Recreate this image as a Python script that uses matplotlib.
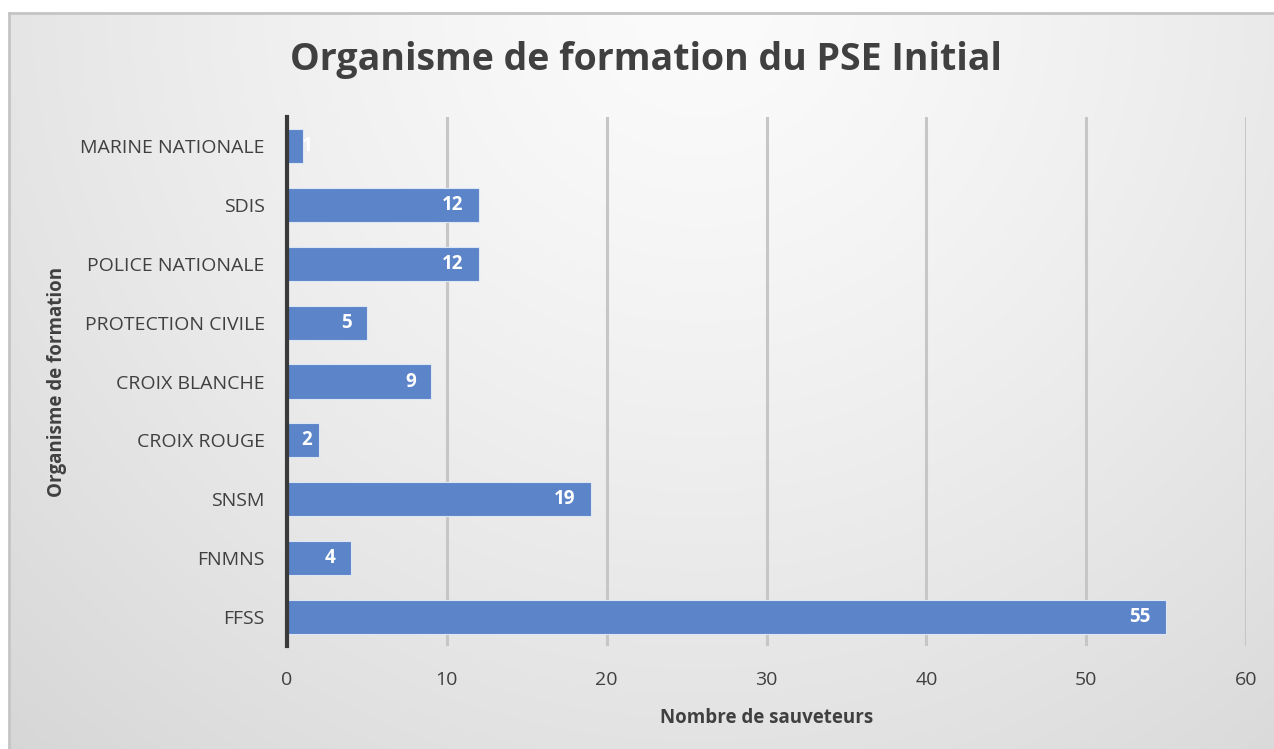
import numpy as np
import matplotlib
matplotlib.use('Agg')
import matplotlib.pyplot as plt
from matplotlib.patches import Rectangle

# data, bottom to top
organismes = ['FFSS', 'FNMNS', 'SNSM', 'CROIX ROUGE', 'CROIX BLANCHE',
              'PROTECTION CIVILE', 'POLICE NATIONALE', 'SDIS', 'MARINE NATIONALE']
sauveteurs = [55, 4, 19, 2, 9, 5, 12, 12, 1]
x_ticks = [0, 10, 20, 30, 40, 50, 60]

plt.rcParams['font.family'] = ['Open Sans', 'DejaVu Sans']

W, H = 1274, 749
fig = plt.figure(figsize=(W / 100, H / 100), dpi=100)
fig.patch.set_facecolor('white')

# background gradient of the chart area
bg = fig.add_axes([0, 0, 1, 1], zorder=-10)
yy, xx = np.mgrid[0:H, 0:W]
r = np.sqrt((xx - 700.0) ** 2 + (yy - 0.0) ** 2) / 1000.0
val = 0.985 - 0.14 * r ** 1.3
img = np.dstack([val, val, val])
bg.imshow(img, extent=[0, W, H, 0], aspect='auto', interpolation='bilinear')
# white margin top / left
bg.add_patch(Rectangle((0, 0), W, 13, color='white', zorder=2))
bg.add_patch(Rectangle((0, 0), 9, H, color='white', zorder=2))
bg.plot([9, W], [13, 13], color='#c4c4c4', lw=2, zorder=3)
bg.plot([9, 9], [13, H], color='#c4c4c4', lw=2, zorder=3)
bg.set_xlim(0, W)
bg.set_ylim(H, 0)
bg.axis('off')

ax = fig.add_axes([287 / W, 1 - 646 / H, (1246 - 287) / W, (646 - 117) / H])
ax.set_facecolor('none')

y = np.arange(len(organismes))
ax.barh(y, sauveteurs, height=0.58, color='#5b84c9', edgecolor='#dfe6f3',
        linewidth=0.8, zorder=3)

for yi, v in zip(y, sauveteurs):
    if v <= 2:
        ax.text(0.9, yi, str(v), ha='left', va='center', color='white',
                fontsize=13.5, fontweight='bold', zorder=4)
    else:
        ax.text(v - 0.95, yi, str(v), ha='right', va='center', color='white',
                fontsize=13.5, fontweight='bold', zorder=4)

ax.set_xlim(0, 60)
ax.set_ylim(-0.5, len(organismes) - 0.5)
ax.set_xticks(x_ticks)
ax.set_yticks(y)
ax.set_yticklabels(organismes)
ax.tick_params(axis='both', length=0, labelsize=14, colors='#404040')
ax.tick_params(axis='x', pad=18)
ax.tick_params(axis='y', pad=16)

ax.grid(axis='x', color='#c6c6c6', lw=2.2, zorder=1)
ax.grid(axis='y', visible=False)
for s in ['top', 'right', 'bottom']:
    ax.spines[s].set_visible(False)
ax.spines['left'].set_color('#3a3a3a')
ax.spines['left'].set_linewidth(3)
ax.spines['left'].set_zorder(5)

ax.set_xlabel('Nombre de sauveteurs', fontsize=13.5, fontweight='bold',
              color='#404040', labelpad=14)
ax.set_ylabel('Organisme de formation', fontsize=13.5, fontweight='bold',
              color='#404040', va='center')
ax.yaxis.set_label_coords((57 - 287) / (1246 - 287), 0.5)

fig.text(646 / W, 1 - 60 / H, 'Organisme de formation du PSE Initial',
         ha='center', va='center', fontsize=27, fontweight='bold', color='#404040')

fig.savefig('out.png', dpi=100)
